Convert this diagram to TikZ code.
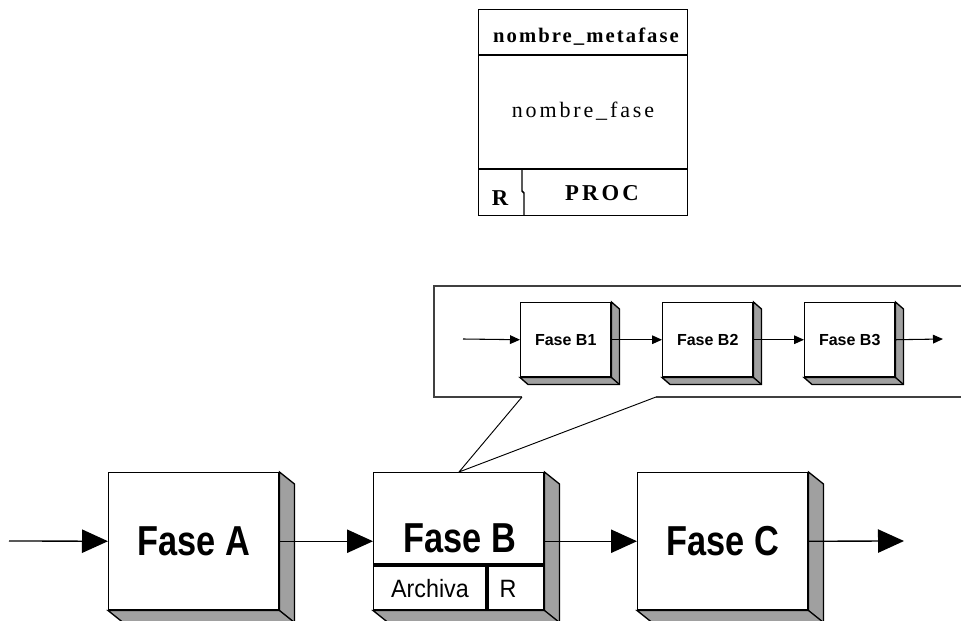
\documentclass[tikz,border=0pt]{standalone}
\usepackage{fontspec}
\usepackage{graphicx}
\setmainfont{Liberation Serif}
\setsansfont{Liberation Sans}
\usetikzlibrary{arrows.meta,calc}

\definecolor{shadowgray}{HTML}{A0A0A0}
\definecolor{framegray}{HTML}{404040}

\tikzset{
  edge/.style={draw=black,line width=1.1pt},
  bigbox/.style={edge,fill=white,anchor=north west,inner sep=0pt,
    minimum width=127.5pt,minimum height=102.75pt,
    font=\sffamily\bfseries\fontsize{31.4}{33}\selectfont},
  smallbox/.style={edge,fill=white,anchor=north west,inner sep=0pt,
    minimum width=67.5pt,minimum height=55.5pt,
    font=\sffamily\bfseries\fontsize{12}{14}\selectfont},
  metabox/.style={edge,anchor=north west,inner sep=0pt,
    minimum width=156.75pt,minimum height=154.5pt},
  bigtext/.style={anchor=base,inner sep=0pt,
    font=\sffamily\bfseries\fontsize{31.4}{33}\selectfont},
  celltext/.style={anchor=base,inner sep=0pt,
    font=\sffamily\fontsize{18.8}{20}\selectfont},
  flow/.style={line width=1pt,-{Triangle[length=19.5pt,width=17.5pt]}},
  subflow/.style={line width=0.8pt,-{Triangle[length=7.5pt,width=6.5pt]}},
  divider/.style={line width=2.4pt},
  callout/.style={draw=framegray,line width=1.1pt,line join=miter},
  pointer/.style={draw=black,line width=0.7pt},
}

% gray 3D side and bottom faces of a box node
\newcommand\boxside[3]{%
  \filldraw[fill=shadowgray,draw=black,line width=1pt,line join=miter]
    (#1.north east) -- ++(#2,#3) -- ($(#1.south east)+(#2,#3)$)
    -- ($(#1.south west)+(#2,#3)$) -- (#1.south west) -- (#1.south east) -- cycle;
  \draw[black,line width=1pt] (#1.south east) -- ++(#2,#3);}

\begin{document}
\begin{tikzpicture}[x=0.75pt,y=-0.75pt]
\useasboundingbox (0,0) rectangle (961,621);

% ---- legend box: metaphase / phase / R / PROC
\node[metabox] (M) at (478,9) {};
\draw[edge] (478,55) -- (687,55);
\draw[edge] (478,169) -- (687,169);
\draw[edge] (522,169) -- (522,191) -- (524,193) -- (524,215);
\node[anchor=base,inner sep=0pt,
  font=\bfseries\fontsize{15.5}{17}\selectfont\addfontfeature{LetterSpace=10}]
  (mhead) at (586,42) {nombre\_metafase};
\node[anchor=base,inner sep=0pt,
  font=\fontsize{16.5}{18}\selectfont\addfontfeature{LetterSpace=13}]
  (mbody) at (583,117) {nombre\_fase};
\node[anchor=base,inner sep=0pt,font=\bfseries\fontsize{17}{18}\selectfont]
  (mR) at (500,205) {R};
\node[anchor=base,inner sep=0pt,
  font=\bfseries\fontsize{17}{18}\selectfont\addfontfeature{LetterSpace=14}]
  (mproc) at (602,200) {PROC};

% ---- detail callout of Fase B
\coordinate (tip) at (459,472);
\draw[callout] (522,397) -- (434,397) -- (434,286) -- (964,286) -- (964,397) -- (656,397);
\draw[pointer] (522,397) -- (tip) -- (656,397);

\node[smallbox] (B1) at (520,302) {Fase B1};
\node[smallbox] (B2) at (662,302) {Fase B2};
\node[smallbox] (B3) at (804,302) {Fase B3};
\boxside{B1}{8}{7}
\boxside{B2}{8}{7}
\boxside{B3}{8}{7}

\coordinate (bin) at (463,339);
\coordinate (bout) at (943,339);
\draw[subflow] (bin) -- (B1.west);
\draw[subflow] (B1.east) -- (B2.west);
\draw[subflow] (B2.east) -- (B3.west);
\draw[subflow] (B3.east) -- (bout);

% ---- main flow
\node[bigbox] (A) at (108,472) {\scalebox{0.82}[1]{Fase A}};
\node[bigbox] (B) at (373,472) {};
\node[bigbox] (C) at (637,472) {\scalebox{0.82}[1]{Fase C}};
\boxside{A}{15}{12}
\boxside{B}{15}{12}
\boxside{C}{15}{12}

% Fase B carries its file and resource cells
\node[bigtext] (Bname) at (460,552) {\scalebox{0.82}[1]{Fase B}};
\draw[divider] (B.west |- 0,565) -- (B.east |- 0,565);
\draw[divider] (487,565) -- (487,611);
\node[celltext] (Barch) at (430,597) {\scalebox{0.93}[1]{Archiva}};
\node[celltext] (BR) at (508,597) {\scalebox{0.93}[1]{R}};

\coordinate (in) at (9,541);
\coordinate (out) at (904,541);
\draw[flow] (in) -- (A.west);
\draw[flow] (A.east) -- (B.west);
\draw[flow] (B.east) -- (C.west);
\draw[flow] (C.east) -- (out);
\end{tikzpicture}
\end{document}
